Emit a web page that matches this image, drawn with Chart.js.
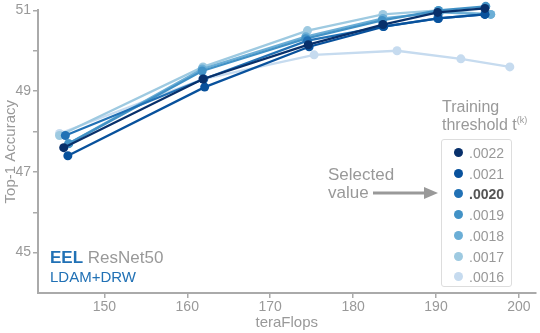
<!DOCTYPE html>
<html>
<head>
<meta charset="utf-8">
<script src="https://cdn.jsdelivr.net/npm/chart.js@4"></script>
<style>
  body { margin: 0; background: #fff; font-family: "Liberation Sans", Arial, sans-serif; }
  #wrap { position: relative; width: 540px; height: 333px; }
  .lbl { position: absolute; color: #999; white-space: nowrap; }
  #legend { position: absolute; left: 441px; top: 139px; width: 69px; height: 146px;
            border: 1.5px solid #ddd; border-radius: 3px; }
  .row { position: absolute; left: 0; height: 20px; font-size: 14px; color: #999; }
  .dot { position: absolute; left: 12px; top: 5px; width: 9px; height: 9px; border-radius: 50%; }
  .row span { position: absolute; left: 27px; top: 2px; }
</style>
</head>
<body>
<div id="wrap">
  <canvas id="c" width="540" height="333"></canvas>
  <div class="lbl" style="left:442px;top:98px;font-size:16px;line-height:18px">Training<br>threshold t<sup style="font-size:9px;line-height:0;vertical-align:7px">(k)</sup></div>
  <div class="lbl" style="left:328px;top:166px;font-size:17px;line-height:18px">Selected<br>value</div>
  <svg style="position:absolute;left:370px;top:186px" width="70" height="14">
    <line x1="3" y1="7" x2="56" y2="7" stroke="#999" stroke-width="3"/>
    <polygon points="54,1 68,7 54,13" fill="#999"/>
  </svg>
  <div id="legend"></div>
  <div class="lbl" style="left:50px;top:248px;font-size:17px"><b style="color:#2171b5">EEL</b> ResNet50</div>
  <div class="lbl" style="left:50px;top:268px;font-size:15px;color:#2171b5">LDAM+DRW</div>
</div>
<script>
// thresholds and colours
const thresholds = ['.0022', '.0021', '.0020', '.0019', '.0018', '.0017', '.0016'];
const colors = ['#08306b', '#08519c', '#2171b5', '#4292c6', '#6baed6', '#9ecae1', '#c6dbef'];

// teraFlops per run
const flops22 = [145.1, 161.9, 174.6, 183.6, 190.2, 195.9];
const flops21 = [145.6, 162.1, 174.7, 183.7, 190.3, 195.9];
const flops20 = [145.3, 162.0, 174.5, 183.6, 190.2, 195.9];
const flops19 = [145.7, 161.8, 174.3, 183.5, 190.3, 196.0];
const flops18 = [145.7, 161.8, 174.3, 183.6, 190.4, 196.6];
const flops17 = [144.6, 161.9, 174.5, 183.6, 190.3, 196.6];
const flops16 = [144.6, 161.9, 175.3, 185.3, 193.0, 198.9];

// top-1 accuracy
const acc22 = [47.6, 49.3, 50.15, 50.65, 50.95, 51.05];
const acc21 = [47.4, 49.1, 50.1, 50.6, 50.8, 50.9];
const acc20 = [47.9, 49.3, 50.25, 50.6, 50.8, 50.9];
const acc19 = [47.7, 49.5, 50.3, 50.75, 51.0, 51.1];
const acc18 = [47.7, 49.55, 50.35, 50.8, 50.95, 50.9];
const acc17 = [47.9, 49.6, 50.5, 50.9, 51.0, 50.9];
const acc16 = [47.95, 49.3, 49.9, 50.0, 49.8, 49.6];

const xTicks = [150, 160, 170, 180, 190, 200];
const yLabels = [45, 47, 49, 51];

const flops = [flops22, flops21, flops20, flops19, flops18, flops17, flops16];
const accs = [acc22, acc21, acc20, acc19, acc18, acc17, acc16];

const datasets = thresholds.map((t, i) => ({
    label: t,
    data: flops[i].map((x, j) => ({ x: x, y: accs[i][j] })),
    borderColor: colors[i],
    backgroundColor: colors[i],
    borderWidth: 2.3,
    pointRadius: 4.5,
    pointHoverRadius: 4.5,
    pointBorderWidth: 0,
    order: i,
    clip: false
}));

// legend rows
const leg = document.getElementById('legend');
thresholds.forEach((t, i) => {
    const r = document.createElement('div');
    r.className = 'row';
    r.style.top = (3 + i * 20.7) + 'px';
    const bold = t === '.0020' ? ' style="font-weight:bold;color:#555"' : '';
    r.innerHTML = '<div class="dot" style="background:' + colors[i] + '"></div><span' + bold + '>' + t + '</span>';
    leg.appendChild(r);
});

const grey = '#aaa';
new Chart(document.getElementById('c').getContext('2d'), {
    type: 'line',
    data: { datasets: datasets },
    options: {
        responsive: false,
        animation: false,
        layout: { padding: { top: 6, right: 2, left: 0, bottom: 0 } },
        plugins: { legend: { display: false }, tooltip: { enabled: false } },
        scales: {
            x: {
                type: 'linear',
                min: 142, max: 202,
                afterBuildTicks: s => { s.ticks = xTicks.map(v => ({ value: v })); },
                afterFit: s => { s.height = 40; },
                border: { color: grey, width: 2 },
                grid: { drawOnChartArea: false, color: grey, tickLength: 5, lineWidth: 1.5 },
                ticks: { color: '#999', font: { size: 14, family: 'Liberation Sans' }, padding: 1 },
                title: { display: true, text: 'teraFlops', color: '#999',
                         font: { size: 15, family: 'Liberation Sans' }, padding: { top: 0, bottom: 1 } }
            },
            y: {
                min: 44, max: 51,
                afterBuildTicks: s => { s.ticks = [45, 46, 47, 48, 49, 50, 51].map(v => ({ value: v })); },
                afterFit: s => { s.width = 38; },
                border: { color: grey, width: 2 },
                grid: { drawOnChartArea: false, color: grey, tickLength: 5, lineWidth: 1.5 },
                ticks: {
                    color: '#999', font: { size: 14, family: 'Liberation Sans' }, padding: 2,
                    callback: v => yLabels.includes(v) ? String(v) : ''
                },
                title: { display: true, text: 'Top-1 Accuracy', color: '#999',
                         font: { size: 15, family: 'Liberation Sans' }, padding: { top: 2, bottom: 0 } }
            }
        }
    }
});
</script>
</body>
</html>
